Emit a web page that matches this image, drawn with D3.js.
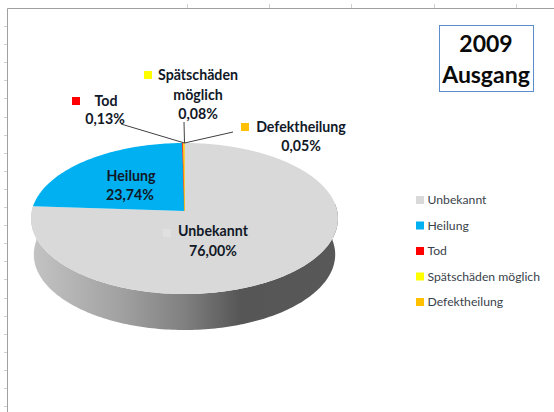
<!DOCTYPE html>
<html><head><meta charset="utf-8">
<script src="https://cdn.jsdelivr.net/npm/d3@7"></script>
<style>html,body{margin:0;padding:0;background:#fff}svg{display:block}text{font-family:Lato,"Open Sans",sans-serif}</style>
</head><body><svg id="c" width="554" height="412"></svg>
<script>
const categories = ["Unbekannt","Heilung","Tod","Spätschäden möglich","Defektheilung"];
const values = [76.00,23.74,0.13,0.08,0.05];
const valueLabels = ["76,00%","23,74%","0,13%","0,08%","0,05%"];
const colors = ["#d9d9d9","#00b0f0","#ff0000","#ffff00","#ffc000"];
const titleLines = ["2009","Ausgang"];

const svg = d3.select("#c");
const defs = svg.append("defs");
const grad = defs.append("linearGradient").attr("id","side").attr("gradientUnits","userSpaceOnUse")
  .attr("x1",31).attr("x2",338).attr("y1",0).attr("y2",0);
[[0,"#c4c4c4"],[0.3,"#a0a0a0"],[0.5,"#808080"],[0.68,"#565656"],[1,"#585858"]]
  .forEach(([o,c])=>grad.append("stop").attr("offset",o).attr("stop-color",c));

// worksheet frame behind the chart
const frame = svg.append("g");
const frameColor = "#a0a0a0";
frame.append("path").attr("d","M7.5,412V8.5H554").attr("fill","none").attr("stroke",frameColor).attr("stroke-width",1);
d3.range(26,412,18.1).forEach(y=>frame.append("line").attr("x1",4).attr("x2",7)
  .attr("y1",Math.round(y)+.5).attr("y2",Math.round(y)+.5).attr("stroke","#d0d0d0"));
d3.range(187,554,82.2).forEach(x=>frame.append("line").attr("x1",Math.round(x)+.5).attr("x2",Math.round(x)+.5)
  .attr("y1",4).attr("y2",8).attr("stroke","#d0d0d0"));

// perspective projection of the pie disc
const cx=184.5, apexY=211, rx=152.7, persp=0.0993, slope=-53.8, depth=36;
const proj = (a,scale=1,dy=0)=>{
  const u=Math.sin(a), v=Math.cos(a), d=1+persp*v;
  return [cx+rx*scale*u/d, dy+(apexY+slope*v)/d];
};
const pie = d3.pie().sort(null).value(d=>d)(values);
const line = d3.line();

// side wall
const front = d3.range(Math.PI*0.47,Math.PI*1.53,0.02);
const upper = front.map(a=>proj(a));
const lower = front.map(a=>proj(a,0.982,depth)).reverse();
svg.append("path").attr("d",line(upper.concat(lower))+"Z").attr("fill","url(#side)");

// top faces
pie.forEach((s,i)=>{
  const n=Math.max(2,Math.ceil((s.endAngle-s.startAngle)/0.02));
  const pts=[[cx,apexY]];
  for(let k=0;k<=n;k++) pts.push(proj(s.startAngle+(s.endAngle-s.startAngle)*k/n));
  svg.append("path").attr("d",line(pts)+"Z").attr("fill",colors[i])
    .attr("stroke",i>1?colors[i]:"none").attr("stroke-width",i>1?0.25:0);
});

// leader lines, anchored at the slice rims
const rimX = proj(0)[0], rimY = proj(0)[1];
const leaders = [[2,121,124],[3,184,122],[4,233,132]];
leaders.forEach(([i,x,y])=>svg.append("line").attr("x1",rimX).attr("y1",rimY).attr("x2",x).attr("y2",y)
  .attr("stroke","#404040").attr("stroke-width",1));

// data labels
const textCol="#111827";
const labelSpec = [
  {i:0,lines:[categories[0]],cx:213,y:236,vy:256,key:[163,229]},
  {i:1,lines:[categories[1]],cx:131,y:181,vy:200,key:null},
  {i:2,lines:[categories[2]],cx:106,y:106,vy:124,key:[72,97]},
  {i:3,lines:["Spätschäden","möglich"],cx:198,y:80,vy:119,key:[144,71]},
  {i:4,lines:[categories[4]],cx:301,y:132,vy:151,key:[241,123]}
];
const valueCx = {0:213,1:130,2:105,3:198,4:301};
labelSpec.forEach(l=>{
  l.lines.forEach((t,k)=>svg.append("text").attr("x",l.cx).attr("y",l.y+k*19.5)
    .attr("text-anchor","middle").attr("font-size",14.2).attr("font-weight",700).attr("fill",textCol).text(t));
  svg.append("text").attr("x",valueCx[l.i]).attr("y",l.vy).attr("text-anchor","middle")
    .attr("font-size",14.2).attr("font-weight",700).attr("fill",textCol).text(valueLabels[l.i]);
  if(l.key) svg.append("rect").attr("x",l.key[0]).attr("y",l.key[1]).attr("width",8).attr("height",8)
    .attr("fill",l.i===0?"#e0e0e0":colors[l.i]);
});

// title box
svg.append("rect").attr("x",439.5).attr("y",25.5).attr("width",94).attr("height",66)
  .attr("fill","#fff").attr("stroke","#5b8ccc").attr("stroke-width",1);
titleLines.forEach((t,k)=>svg.append("text").attr("x",486).attr("y",[52,83][k]).attr("text-anchor","middle")
  .attr("font-size",23).attr("font-weight",700).attr("fill","#0a0a0a").text(t));

// legend
const legendY = d3.scalePoint().domain(categories).range([200,302]);
categories.forEach((c,i)=>{
  svg.append("rect").attr("x",416).attr("y",legendY(c)-4).attr("width",8).attr("height",8).attr("fill",colors[i]);
  svg.append("text").attr("x",427.5).attr("y",legendY(c)+4).attr("font-size",12.2).attr("fill","#3a3f4a").text(c);
});
</script></body></html>
